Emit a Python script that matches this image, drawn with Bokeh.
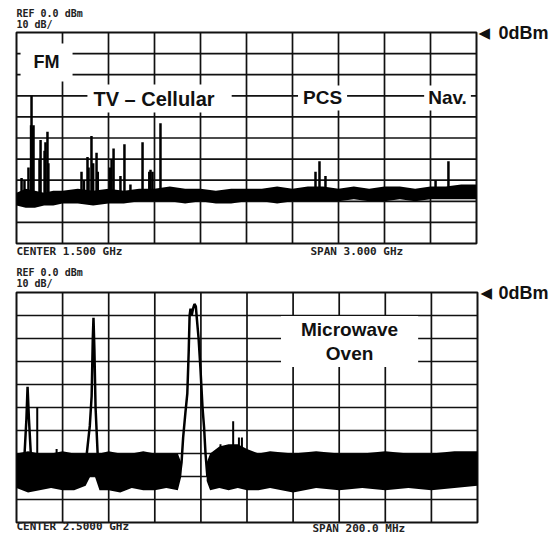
from bokeh.plotting import figure
from bokeh.models import ColumnDataSource, Label, Range1d
from bokeh.layouts import column
from bokeh.embed import file_html
from bokeh.resources import INLINE

# ---------------- data : top panel (0 - 3 GHz) ----------------
top_f_range = [0, 3000]            # MHz
top_db_range = [-100, 0]           # dBm
top_x_ticks = [300, 600, 900, 1200, 1500, 1800, 2100, 2400, 2700]
db_ticks = [-90, -80, -70, -60, -50, -40, -30, -20, -10]

top_band_f = [0, 60, 120, 180, 240, 300, 400, 500, 600, 700, 800, 900, 1000, 1100,
              1200, 1300, 1400, 1500, 1600, 1700, 1800, 1900, 2000, 2100, 2200, 2300,
              2400, 2500, 2600, 2700, 2800, 2900, 3000]
top_band_hi = [-76, -74, -75, -76, -75, -75, -74, -75, -74, -75, -74, -74, -73, -74,
               -74, -75, -74, -74, -74, -73, -74, -73, -73, -74, -73, -74,
               -73, -73, -74, -73, -73, -72, -72]
top_band_lo = [-82, -83, -83, -82, -82, -81, -81, -82, -81, -81, -80, -80, -80, -81,
               -80, -81, -81, -80, -80, -81, -80, -80, -80, -80, -79, -80,
               -80, -79, -80, -79, -79, -79, -79]

top_spike_f = [33, 52, 78, 95, 98, 103, 111, 150, 157, 183, 189, 202, 208,
               424, 440, 463, 470, 489, 500, 522, 530, 610, 620, 633, 678, 704,
               743, 822, 866, 874, 887, 939, 1950, 1976, 2015, 2733, 2817]
top_spike_db = [-69, -70, -64, -44, -30, -45, -44, -60, -51, -56, -52, -47, -62,
                -66, -70, -59, -64, -49, -62, -57, -66, -64, -60, -55, -68, -53,
                -72, -52, -66, -65, -66, -43, -66, -61, -68, -70, -61]
top_spike_base = -77

# ---------------- data : bottom panel (2.4 - 2.6 GHz) ----------------
bot_f_range = [2400, 2600]
bot_db_range = [-100, 0]
bot_x_ticks = [2420, 2440, 2460, 2480, 2500, 2520, 2540, 2560, 2580]

bot_band_left_f = [2400, 2405, 2410, 2415, 2420, 2425, 2430, 2432, 2434, 2436, 2440,
                   2445, 2450, 2455, 2460, 2465, 2470, 2471.5]
bot_band_left_hi = [-70, -69, -70, -70, -69, -70, -70, -70, -70, -70, -69,
                    -70, -70, -69, -70, -70, -70, -74]
bot_band_left_lo = [-85, -87, -86, -85, -86, -86, -84, -80, -80, -86, -86,
                    -87, -85, -86, -86, -85, -86, -80]

bot_band_right_f = [2482.5, 2484, 2488, 2492, 2496, 2500, 2505, 2510, 2520, 2530,
                    2540, 2550, 2560, 2570, 2580, 2590, 2600]
bot_band_right_hi = [-74, -70, -67, -66, -66, -68, -70, -69, -70, -69,
                     -70, -70, -69, -70, -70, -69, -69]
bot_band_right_lo = [-82, -86, -85, -86, -85, -86, -86, -85, -87, -85,
                     -86, -85, -86, -85, -86, -85, -84]

bot_spike_f = [2409.0, 2417.4, 2488.5, 2494.0, 2496.5, 2497.8]
bot_spike_db = [-50, -68, -66, -56, -63, -63]
bot_spike_base = -72

peak_2405_f = [2403.5, 2404.3, 2404.8, 2405.4, 2406.2]
peak_2405_db = [-70, -55, -41, -55, -70]

peak_2433_f = [2430.5, 2431.8, 2432.6, 2433.1, 2433.4, 2433.8, 2434.3, 2435.2]
peak_2433_db = [-70, -58, -45, -20, -11, -25, -50, -70]

oven_f = [2470.8, 2471.6, 2472.3, 2473.3, 2474.1, 2474.7, 2475.1, 2475.5, 2476.0,
          2476.6, 2477.2, 2477.8, 2478.3, 2479.0, 2479.8, 2480.7, 2481.4, 2482.0, 2482.8]
oven_db = [-80, -74, -63, -52, -44, -26, -10, -7, -10, -7, -5, -6, -12, -20, -33,
           -50, -59, -70, -80]

# ---------------- styling helpers ----------------
LABEL_FONT = "Liberation Sans"
MONO_FONT = "DejaVu Sans Mono"
INK = "#111111"
CANVAS_W = 554


def make_panel(xr, yr, xticks, height, box_left, box_w, box_top, box_h):
    """Figure whose frame fills the canvas; the graticule box sits inside it."""
    xs = (xr[1] - xr[0]) / box_w          # data units per pixel
    ys = (yr[1] - yr[0]) / box_h
    x_range = Range1d(xr[0] - box_left * xs, xr[1] + (CANVAS_W - box_left - box_w) * xs)
    y_range = Range1d(yr[0] - (height - box_top - box_h) * ys, yr[1] + box_top * ys)
    p = figure(width=CANVAS_W, height=height, x_range=x_range, y_range=y_range,
               output_backend="svg", toolbar_location=None,
               min_border=0, min_border_left=0, min_border_right=0,
               min_border_top=0, min_border_bottom=0)
    p.axis.visible = False
    p.grid.visible = False
    p.outline_line_color = None
    p.background_fill_color = "white"
    p.border_fill_color = "white"
    # graticule: 10 x 10 divisions
    v = dict(x0=xticks, x1=xticks, y0=[yr[0]] * len(xticks), y1=[yr[1]] * len(xticks))
    h = dict(x0=[xr[0]] * len(db_ticks), x1=[xr[1]] * len(db_ticks), y0=db_ticks, y1=db_ticks)
    for d in (v, h):
        p.segment(x0="x0", y0="y0", x1="x1", y1="y1", line_color=INK,
                  line_width=1.7, source=ColumnDataSource(d))
    p.quad(left=[xr[0]], right=[xr[1]], bottom=[yr[0]], top=[yr[1]],
           fill_color=None, line_color=INK, line_width=2)
    return p


def box_label(p, x, y, text, size, pad_h, pad_v):
    p.add_layout(Label(x=x, y=y, text=text, text_font=LABEL_FONT,
                       text_font_style="bold", text_font_size=size,
                       text_color=INK, text_align="center",
                       text_baseline="middle", text_line_height=1.15,
                       background_fill_color="white",
                       padding=dict(left=pad_h, right=pad_h, top=pad_v, bottom=pad_v)))


def mono(p, x, y, text, size="11px"):
    p.add_layout(Label(x=x, y=y, text=text, text_font=MONO_FONT,
                       text_font_style="bold", text_font_size=size,
                       text_color="#222222", text_align="left",
                       text_baseline="middle"))


def ref_marker(p, x_tri, x_txt):
    p.add_layout(Label(x=x_tri, y=0, text="\u25C0", text_font="DejaVu Sans",
                       text_font_size="15px", text_color=INK,
                       text_align="left", text_baseline="middle"))
    p.add_layout(Label(x=x_txt, y=0, text="0dBm", text_font=LABEL_FONT,
                       text_font_style="bold", text_font_size="18px",
                       text_color=INK, text_align="left",
                       text_baseline="middle"))


# ---------------- top panel ----------------
p1 = make_panel(top_f_range, top_db_range, top_x_ticks, 262, 16, 460, 32, 211)
p1.varea(x="f", y1="lo", y2="hi", fill_color="black",
         source=ColumnDataSource(dict(f=top_band_f, hi=top_band_hi, lo=top_band_lo)))
p1.segment(x0="f", y0="base", x1="f", y1="db", line_color="black", line_width=2.5,
           source=ColumnDataSource(dict(f=top_spike_f, db=top_spike_db,
                                        base=[top_spike_base] * len(top_spike_f))))

box_label(p1, 196, -14.2, "FM", "18px", 13, 9)
box_label(p1, 933, -31.3, "TV   \u2013 Cellular", "20px", 6, 3)
box_label(p1, 1996, -31.0, "PCS", "19px", 5, 2)
box_label(p1, 2811, -31.0, "Nav.", "19px", 4, 2)

mono(p1, 0, 9.0, "REF 0.0 dBm", "10px")
mono(p1, 0, 4.0, "10 dB/", "10px")
mono(p1, 0, -103.8, "CENTER 1.500 GHz")
mono(p1, 1917, -103.8, "SPAN 3.000 GHz")
ref_marker(p1, 3013, 3143)

# ---------------- bottom panel ----------------
p2 = make_panel(bot_f_range, bot_db_range, bot_x_ticks, 272, 16, 461, 30, 230)
p2.varea(x="f", y1="lo", y2="hi", fill_color="black",
         source=ColumnDataSource(dict(f=bot_band_left_f, hi=bot_band_left_hi,
                                      lo=bot_band_left_lo)))
p2.varea(x="f", y1="lo", y2="hi", fill_color="black",
         source=ColumnDataSource(dict(f=bot_band_right_f, hi=bot_band_right_hi,
                                      lo=bot_band_right_lo)))
p2.segment(x0="f", y0="base", x1="f", y1="db", line_color="black", line_width=2,
           source=ColumnDataSource(dict(f=bot_spike_f, db=bot_spike_db,
                                        base=[bot_spike_base] * len(bot_spike_f))))
p2.multi_line(xs="xs", ys="ys", line_color="black", line_width=2.5,
              source=ColumnDataSource(dict(xs=[peak_2405_f, peak_2433_f, oven_f],
                                           ys=[peak_2405_db, peak_2433_db, oven_db])))

box_label(p2, 2544.5, -21.3, "Microwave\nOven", "19px", 20, 3)

mono(p2, 2400, 8.5, "REF 0.0 dBm", "10px")
mono(p2, 2400, 4.0, "10 dB/", "10px")
mono(p2, 2400, -101.7, "CENTER 2.5000 GHz")
mono(p2, 2528.4, -102.4, "SPAN 200.0 MHz")
ref_marker(p2, 2601.3, 2609.1)

layout = column(p1, p2, spacing=0)
open("out.html", "w").write(file_html(layout, INLINE))
